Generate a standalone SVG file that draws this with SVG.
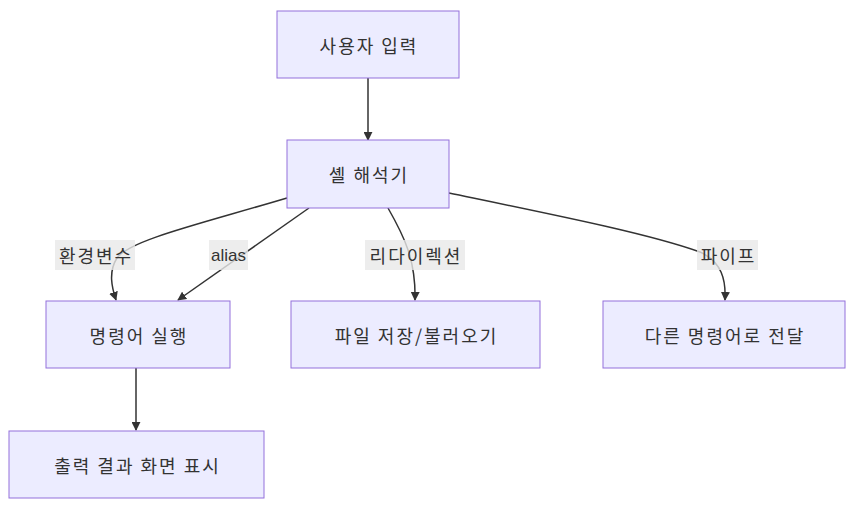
<svg xmlns="http://www.w3.org/2000/svg" width="862" height="507" viewBox="0 0 862 507">
<defs>
<marker id="arr" viewBox="0 0 10 10" refX="9" refY="5" markerWidth="9" markerHeight="9" markerUnits="userSpaceOnUse" orient="auto">
<path d="M0,0 L10,5 L0,10 z" fill="#333"/>
</marker>
<style>
.node rect{fill:#ECECFF;stroke:#9370DB;stroke-width:1px}
text{font-family:"Noto Sans CJK KR","Liberation Sans",sans-serif;font-size:18px;letter-spacing:2px;fill:#333;text-anchor:middle;dominant-baseline:central}
text.lat{font-family:"Liberation Sans","Noto Sans CJK KR",sans-serif;font-size:17px;letter-spacing:0}
.edge{fill:none;stroke:#333;stroke-width:1.5px;marker-end:url(#arr)}
.lbl rect{fill:#e8e8e8;opacity:0.8}
</style>
</defs>
<rect width="862" height="507" fill="#fff"/>
<g id="connectors">
<path class="edge" d="M368,78 L368,140"/>
<path class="edge" d="M287,198 C200,224 130,240 117,258 C108,272 112,288 116,300"/>
<path class="edge" d="M309,208 L178,300"/>
<path class="edge" d="M388,208 C404,236 416,260 415,300"/>
<path class="edge" d="M449,193 C560,216 650,234 700,252 C722,262 726,280 725,300"/>
<path class="edge" d="M136,368 L136,430"/>
</g>
<g id="labels">
<g class="lbl"><rect x="55" y="240" width="80" height="30"/><text x="96" y="255">환경변수</text></g>
<g class="lbl"><rect x="209" y="240" width="39" height="30"/><text class="lat" x="228.5" y="255">alias</text></g>
<g class="lbl"><rect x="365" y="240" width="100" height="30"/><text x="416" y="255">리다이렉션</text></g>
<g class="lbl"><rect x="697" y="240" width="61" height="30"/><text x="728.5" y="255">파이프</text></g>
</g>
<g id="n1" class="node"><rect x="277" y="11" width="182" height="67"/><text x="369" y="44.5">사용자 입력</text></g>
<g id="n2" class="node"><rect x="287" y="140" width="162" height="68"/><text x="369" y="174">셸 해석기</text></g>
<g id="n3" class="node"><rect x="46" y="301" width="184" height="67"/><text x="139" y="334.5">명령어 실행</text></g>
<g id="n4" class="node"><rect x="291" y="301" width="249" height="67"/><text x="416.5" y="334.5">파일 저장/불러오기</text></g>
<g id="n5" class="node"><rect x="603" y="301" width="242" height="67"/><text x="725" y="334.5">다른 명령어로 전달</text></g>
<g id="n6" class="node"><rect x="9" y="431" width="255" height="67"/><text x="137.5" y="464.5">출력 결과 화면 표시</text></g>
</svg>
